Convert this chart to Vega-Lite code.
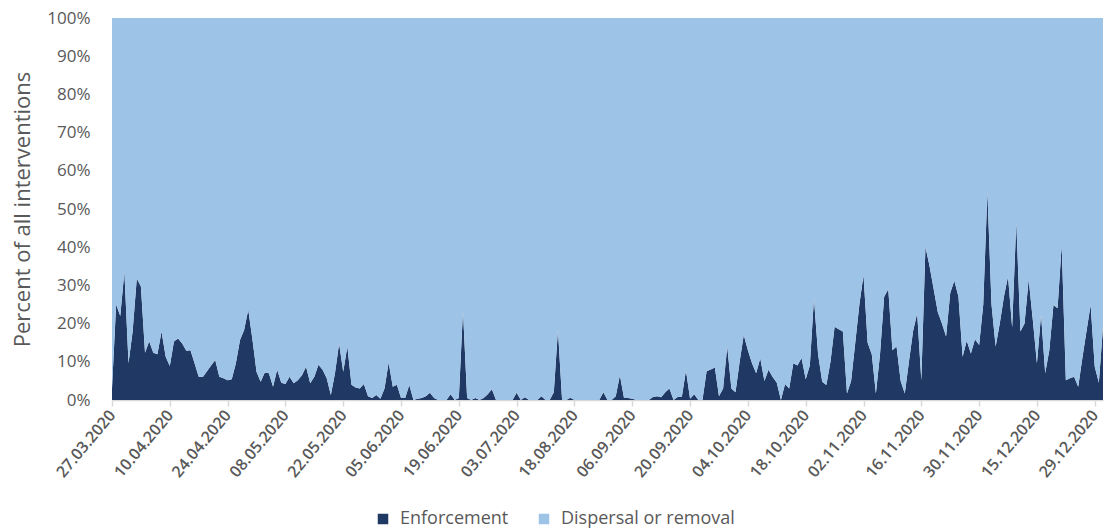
{
"$schema": "https://vega.github.io/schema/vega-lite/v6.json",
"width": 991, "height": 382,
"autosize": {"type": "none"},
"padding": {"left": 112, "top": 18, "right": 2, "bottom": 129},
"background": "white",
"config": {"view": {"stroke": null}, "font": "Open Sans"},
"data": {"values": [
{"date":"27.03.2020","Enforcement":3,"Dispersal or removal":97},
{"date":"28.03.2020","Enforcement":25,"Dispersal or removal":75},
{"date":"29.03.2020","Enforcement":22,"Dispersal or removal":78},
{"date":"30.03.2020","Enforcement":33.6,"Dispersal or removal":66.4},
{"date":"31.03.2020","Enforcement":9.6,"Dispersal or removal":90.4},
{"date":"01.04.2020","Enforcement":18,"Dispersal or removal":82},
{"date":"02.04.2020","Enforcement":31.8,"Dispersal or removal":68.2},
{"date":"03.04.2020","Enforcement":29.7,"Dispersal or removal":70.3},
{"date":"04.04.2020","Enforcement":12.4,"Dispersal or removal":87.6},
{"date":"05.04.2020","Enforcement":15.4,"Dispersal or removal":84.6},
{"date":"06.04.2020","Enforcement":12.4,"Dispersal or removal":87.6},
{"date":"07.04.2020","Enforcement":12,"Dispersal or removal":88},
{"date":"08.04.2020","Enforcement":17.9,"Dispersal or removal":82.1},
{"date":"09.04.2020","Enforcement":11.3,"Dispersal or removal":88.7},
{"date":"10.04.2020","Enforcement":8.9,"Dispersal or removal":91.1},
{"date":"11.04.2020","Enforcement":15.3,"Dispersal or removal":84.7},
{"date":"12.04.2020","Enforcement":16.1,"Dispersal or removal":83.9},
{"date":"13.04.2020","Enforcement":14.8,"Dispersal or removal":85.2},
{"date":"14.04.2020","Enforcement":12.9,"Dispersal or removal":87.1},
{"date":"15.04.2020","Enforcement":13,"Dispersal or removal":87},
{"date":"16.04.2020","Enforcement":9.6,"Dispersal or removal":90.4},
{"date":"17.04.2020","Enforcement":6.1,"Dispersal or removal":93.9},
{"date":"18.04.2020","Enforcement":6,"Dispersal or removal":94},
{"date":"19.04.2020","Enforcement":7.5,"Dispersal or removal":92.5},
{"date":"20.04.2020","Enforcement":9,"Dispersal or removal":91},
{"date":"21.04.2020","Enforcement":10.5,"Dispersal or removal":89.5},
{"date":"22.04.2020","Enforcement":6.1,"Dispersal or removal":93.9},
{"date":"23.04.2020","Enforcement":5.7,"Dispersal or removal":94.3},
{"date":"24.04.2020","Enforcement":5.2,"Dispersal or removal":94.8},
{"date":"25.04.2020","Enforcement":5.4,"Dispersal or removal":94.6},
{"date":"26.04.2020","Enforcement":9.6,"Dispersal or removal":90.4},
{"date":"27.04.2020","Enforcement":15.7,"Dispersal or removal":84.3},
{"date":"28.04.2020","Enforcement":18.3,"Dispersal or removal":81.7},
{"date":"29.04.2020","Enforcement":23.6,"Dispersal or removal":76.4},
{"date":"30.04.2020","Enforcement":16,"Dispersal or removal":84},
{"date":"01.05.2020","Enforcement":7.4,"Dispersal or removal":92.6},
{"date":"02.05.2020","Enforcement":4.8,"Dispersal or removal":95.2},
{"date":"03.05.2020","Enforcement":7.2,"Dispersal or removal":92.8},
{"date":"04.05.2020","Enforcement":7,"Dispersal or removal":93},
{"date":"05.05.2020","Enforcement":3.5,"Dispersal or removal":96.5},
{"date":"06.05.2020","Enforcement":7.9,"Dispersal or removal":92.1},
{"date":"07.05.2020","Enforcement":4.5,"Dispersal or removal":95.5},
{"date":"08.05.2020","Enforcement":4.2,"Dispersal or removal":95.8},
{"date":"09.05.2020","Enforcement":6.1,"Dispersal or removal":93.9},
{"date":"10.05.2020","Enforcement":4.4,"Dispersal or removal":95.6},
{"date":"11.05.2020","Enforcement":5.2,"Dispersal or removal":94.8},
{"date":"12.05.2020","Enforcement":6.5,"Dispersal or removal":93.5},
{"date":"13.05.2020","Enforcement":8.7,"Dispersal or removal":91.3},
{"date":"14.05.2020","Enforcement":4.4,"Dispersal or removal":95.6},
{"date":"15.05.2020","Enforcement":6.1,"Dispersal or removal":93.9},
{"date":"16.05.2020","Enforcement":9.2,"Dispersal or removal":90.8},
{"date":"17.05.2020","Enforcement":7.9,"Dispersal or removal":92.1},
{"date":"18.05.2020","Enforcement":5.7,"Dispersal or removal":94.3},
{"date":"19.05.2020","Enforcement":1.3,"Dispersal or removal":98.7},
{"date":"20.05.2020","Enforcement":7,"Dispersal or removal":93},
{"date":"21.05.2020","Enforcement":14.8,"Dispersal or removal":85.2},
{"date":"22.05.2020","Enforcement":7.4,"Dispersal or removal":92.6},
{"date":"23.05.2020","Enforcement":14,"Dispersal or removal":86},
{"date":"24.05.2020","Enforcement":4,"Dispersal or removal":96},
{"date":"25.05.2020","Enforcement":3.3,"Dispersal or removal":96.7},
{"date":"26.05.2020","Enforcement":3,"Dispersal or removal":97},
{"date":"27.05.2020","Enforcement":4.2,"Dispersal or removal":95.8},
{"date":"28.05.2020","Enforcement":1,"Dispersal or removal":99},
{"date":"29.05.2020","Enforcement":0.5,"Dispersal or removal":99.5},
{"date":"30.05.2020","Enforcement":1.3,"Dispersal or removal":98.7},
{"date":"31.05.2020","Enforcement":0.3,"Dispersal or removal":99.7},
{"date":"01.06.2020","Enforcement":3,"Dispersal or removal":97},
{"date":"02.06.2020","Enforcement":9.8,"Dispersal or removal":90.2},
{"date":"03.06.2020","Enforcement":3.5,"Dispersal or removal":96.5},
{"date":"04.06.2020","Enforcement":4,"Dispersal or removal":96},
{"date":"05.06.2020","Enforcement":0.5,"Dispersal or removal":99.5},
{"date":"06.06.2020","Enforcement":0.5,"Dispersal or removal":99.5},
{"date":"07.06.2020","Enforcement":3.9,"Dispersal or removal":96.1},
{"date":"08.06.2020","Enforcement":0,"Dispersal or removal":100},
{"date":"09.06.2020","Enforcement":0.3,"Dispersal or removal":99.7},
{"date":"10.06.2020","Enforcement":0.5,"Dispersal or removal":99.5},
{"date":"11.06.2020","Enforcement":1,"Dispersal or removal":99},
{"date":"12.06.2020","Enforcement":1.9,"Dispersal or removal":98.1},
{"date":"13.06.2020","Enforcement":0.5,"Dispersal or removal":99.5},
{"date":"14.06.2020","Enforcement":0,"Dispersal or removal":100},
{"date":"15.06.2020","Enforcement":0,"Dispersal or removal":100},
{"date":"16.06.2020","Enforcement":0,"Dispersal or removal":100},
{"date":"17.06.2020","Enforcement":1.5,"Dispersal or removal":98.5},
{"date":"18.06.2020","Enforcement":0,"Dispersal or removal":100},
{"date":"19.06.2020","Enforcement":0.5,"Dispersal or removal":99.5},
{"date":"20.06.2020","Enforcement":23.4,"Dispersal or removal":76.6},
{"date":"21.06.2020","Enforcement":0.5,"Dispersal or removal":99.5},
{"date":"22.06.2020","Enforcement":0,"Dispersal or removal":100},
{"date":"23.06.2020","Enforcement":0.5,"Dispersal or removal":99.5},
{"date":"24.06.2020","Enforcement":0,"Dispersal or removal":100},
{"date":"25.06.2020","Enforcement":0.5,"Dispersal or removal":99.5},
{"date":"26.06.2020","Enforcement":1.5,"Dispersal or removal":98.5},
{"date":"27.06.2020","Enforcement":2.8,"Dispersal or removal":97.2},
{"date":"28.06.2020","Enforcement":0,"Dispersal or removal":100},
{"date":"29.06.2020","Enforcement":0,"Dispersal or removal":100},
{"date":"30.06.2020","Enforcement":0,"Dispersal or removal":100},
{"date":"01.07.2020","Enforcement":0,"Dispersal or removal":100},
{"date":"02.07.2020","Enforcement":0,"Dispersal or removal":100},
{"date":"03.07.2020","Enforcement":1.9,"Dispersal or removal":98.1},
{"date":"06.07.2020","Enforcement":0,"Dispersal or removal":100},
{"date":"09.07.2020","Enforcement":0.7,"Dispersal or removal":99.3},
{"date":"13.07.2020","Enforcement":0,"Dispersal or removal":100},
{"date":"16.07.2020","Enforcement":0,"Dispersal or removal":100},
{"date":"20.07.2020","Enforcement":0,"Dispersal or removal":100},
{"date":"23.07.2020","Enforcement":1,"Dispersal or removal":99},
{"date":"27.07.2020","Enforcement":0,"Dispersal or removal":100},
{"date":"30.07.2020","Enforcement":0,"Dispersal or removal":100},
{"date":"03.08.2020","Enforcement":2,"Dispersal or removal":98},
{"date":"06.08.2020","Enforcement":18.3,"Dispersal or removal":81.7},
{"date":"10.08.2020","Enforcement":0,"Dispersal or removal":100},
{"date":"13.08.2020","Enforcement":0,"Dispersal or removal":100},
{"date":"15.08.2020","Enforcement":0.6,"Dispersal or removal":99.4},
{"date":"18.08.2020","Enforcement":0,"Dispersal or removal":100},
{"date":"19.08.2020","Enforcement":0,"Dispersal or removal":100},
{"date":"20.08.2020","Enforcement":0,"Dispersal or removal":100},
{"date":"21.08.2020","Enforcement":0,"Dispersal or removal":100},
{"date":"24.08.2020","Enforcement":0,"Dispersal or removal":100},
{"date":"25.08.2020","Enforcement":0,"Dispersal or removal":100},
{"date":"26.08.2020","Enforcement":0,"Dispersal or removal":100},
{"date":"27.08.2020","Enforcement":2,"Dispersal or removal":98},
{"date":"28.08.2020","Enforcement":0,"Dispersal or removal":100},
{"date":"31.08.2020","Enforcement":0,"Dispersal or removal":100},
{"date":"01.09.2020","Enforcement":1,"Dispersal or removal":99},
{"date":"02.09.2020","Enforcement":6.5,"Dispersal or removal":93.5},
{"date":"03.09.2020","Enforcement":0.5,"Dispersal or removal":99.5},
{"date":"04.09.2020","Enforcement":0.5,"Dispersal or removal":99.5},
{"date":"06.09.2020","Enforcement":0.3,"Dispersal or removal":99.7},
{"date":"07.09.2020","Enforcement":0,"Dispersal or removal":100},
{"date":"08.09.2020","Enforcement":0,"Dispersal or removal":100},
{"date":"09.09.2020","Enforcement":0,"Dispersal or removal":100},
{"date":"10.09.2020","Enforcement":0,"Dispersal or removal":100},
{"date":"11.09.2020","Enforcement":0.8,"Dispersal or removal":99.2},
{"date":"12.09.2020","Enforcement":1,"Dispersal or removal":99},
{"date":"13.09.2020","Enforcement":0.7,"Dispersal or removal":99.3},
{"date":"14.09.2020","Enforcement":2,"Dispersal or removal":98},
{"date":"15.09.2020","Enforcement":3,"Dispersal or removal":97},
{"date":"16.09.2020","Enforcement":0,"Dispersal or removal":100},
{"date":"17.09.2020","Enforcement":0.8,"Dispersal or removal":99.2},
{"date":"18.09.2020","Enforcement":0.8,"Dispersal or removal":99.2},
{"date":"19.09.2020","Enforcement":7.7,"Dispersal or removal":92.3},
{"date":"20.09.2020","Enforcement":0.3,"Dispersal or removal":99.7},
{"date":"21.09.2020","Enforcement":1.5,"Dispersal or removal":98.5},
{"date":"22.09.2020","Enforcement":0,"Dispersal or removal":100},
{"date":"23.09.2020","Enforcement":0,"Dispersal or removal":100},
{"date":"24.09.2020","Enforcement":7.5,"Dispersal or removal":92.5},
{"date":"25.09.2020","Enforcement":8,"Dispersal or removal":92},
{"date":"26.09.2020","Enforcement":8.5,"Dispersal or removal":91.5},
{"date":"27.09.2020","Enforcement":1,"Dispersal or removal":99},
{"date":"28.09.2020","Enforcement":3,"Dispersal or removal":97},
{"date":"29.09.2020","Enforcement":14,"Dispersal or removal":86},
{"date":"30.09.2020","Enforcement":3,"Dispersal or removal":97},
{"date":"01.10.2020","Enforcement":2,"Dispersal or removal":98},
{"date":"02.10.2020","Enforcement":10,"Dispersal or removal":90},
{"date":"03.10.2020","Enforcement":17,"Dispersal or removal":83},
{"date":"04.10.2020","Enforcement":13,"Dispersal or removal":87},
{"date":"05.10.2020","Enforcement":9.6,"Dispersal or removal":90.4},
{"date":"06.10.2020","Enforcement":7,"Dispersal or removal":93},
{"date":"07.10.2020","Enforcement":10.9,"Dispersal or removal":89.1},
{"date":"08.10.2020","Enforcement":5,"Dispersal or removal":95},
{"date":"09.10.2020","Enforcement":7.9,"Dispersal or removal":92.1},
{"date":"10.10.2020","Enforcement":6,"Dispersal or removal":94},
{"date":"11.10.2020","Enforcement":4.5,"Dispersal or removal":95.5},
{"date":"12.10.2020","Enforcement":0,"Dispersal or removal":100},
{"date":"13.10.2020","Enforcement":4.2,"Dispersal or removal":95.8},
{"date":"14.10.2020","Enforcement":3,"Dispersal or removal":97},
{"date":"15.10.2020","Enforcement":9.6,"Dispersal or removal":90.4},
{"date":"16.10.2020","Enforcement":9,"Dispersal or removal":91},
{"date":"17.10.2020","Enforcement":11,"Dispersal or removal":89},
{"date":"18.10.2020","Enforcement":5.4,"Dispersal or removal":94.6},
{"date":"19.10.2020","Enforcement":9,"Dispersal or removal":91},
{"date":"20.10.2020","Enforcement":26.6,"Dispersal or removal":73.4},
{"date":"21.10.2020","Enforcement":12,"Dispersal or removal":88},
{"date":"22.10.2020","Enforcement":4.8,"Dispersal or removal":95.2},
{"date":"23.10.2020","Enforcement":3.9,"Dispersal or removal":96.1},
{"date":"24.10.2020","Enforcement":10,"Dispersal or removal":90},
{"date":"26.10.2020","Enforcement":19.2,"Dispersal or removal":80.8},
{"date":"27.10.2020","Enforcement":18.5,"Dispersal or removal":81.5},
{"date":"28.10.2020","Enforcement":17.9,"Dispersal or removal":82.1},
{"date":"29.10.2020","Enforcement":1.7,"Dispersal or removal":98.3},
{"date":"30.10.2020","Enforcement":5,"Dispersal or removal":95},
{"date":"31.10.2020","Enforcement":15,"Dispersal or removal":85},
{"date":"01.11.2020","Enforcement":25,"Dispersal or removal":75},
{"date":"02.11.2020","Enforcement":32.7,"Dispersal or removal":67.3},
{"date":"03.11.2020","Enforcement":15,"Dispersal or removal":85},
{"date":"04.11.2020","Enforcement":12,"Dispersal or removal":88},
{"date":"05.11.2020","Enforcement":1.7,"Dispersal or removal":98.3},
{"date":"06.11.2020","Enforcement":12,"Dispersal or removal":88},
{"date":"07.11.2020","Enforcement":27,"Dispersal or removal":73},
{"date":"08.11.2020","Enforcement":29,"Dispersal or removal":71},
{"date":"09.11.2020","Enforcement":13,"Dispersal or removal":87},
{"date":"10.11.2020","Enforcement":14,"Dispersal or removal":86},
{"date":"11.11.2020","Enforcement":5,"Dispersal or removal":95},
{"date":"12.11.2020","Enforcement":1.7,"Dispersal or removal":98.3},
{"date":"13.11.2020","Enforcement":10,"Dispersal or removal":90},
{"date":"14.11.2020","Enforcement":18,"Dispersal or removal":82},
{"date":"15.11.2020","Enforcement":22.7,"Dispersal or removal":77.3},
{"date":"16.11.2020","Enforcement":5.2,"Dispersal or removal":94.8},
{"date":"17.11.2020","Enforcement":40.1,"Dispersal or removal":59.9},
{"date":"18.11.2020","Enforcement":35,"Dispersal or removal":65},
{"date":"19.11.2020","Enforcement":29,"Dispersal or removal":71},
{"date":"20.11.2020","Enforcement":23,"Dispersal or removal":77},
{"date":"21.11.2020","Enforcement":20,"Dispersal or removal":80},
{"date":"22.11.2020","Enforcement":16.6,"Dispersal or removal":83.4},
{"date":"23.11.2020","Enforcement":28,"Dispersal or removal":72},
{"date":"24.11.2020","Enforcement":31.2,"Dispersal or removal":68.8},
{"date":"25.11.2020","Enforcement":27,"Dispersal or removal":73},
{"date":"26.11.2020","Enforcement":11.3,"Dispersal or removal":88.7},
{"date":"27.11.2020","Enforcement":15.5,"Dispersal or removal":84.5},
{"date":"28.11.2020","Enforcement":12.2,"Dispersal or removal":87.8},
{"date":"29.11.2020","Enforcement":15.9,"Dispersal or removal":84.1},
{"date":"30.11.2020","Enforcement":14.4,"Dispersal or removal":85.6},
{"date":"01.12.2020","Enforcement":25,"Dispersal or removal":75},
{"date":"02.12.2020","Enforcement":54.5,"Dispersal or removal":45.5},
{"date":"03.12.2020","Enforcement":25,"Dispersal or removal":75},
{"date":"04.12.2020","Enforcement":14,"Dispersal or removal":86},
{"date":"05.12.2020","Enforcement":20,"Dispersal or removal":80},
{"date":"07.12.2020","Enforcement":27,"Dispersal or removal":73},
{"date":"08.12.2020","Enforcement":32.3,"Dispersal or removal":67.7},
{"date":"09.12.2020","Enforcement":19,"Dispersal or removal":81},
{"date":"10.12.2020","Enforcement":46.7,"Dispersal or removal":53.3},
{"date":"11.12.2020","Enforcement":17.9,"Dispersal or removal":82.1},
{"date":"12.12.2020","Enforcement":20,"Dispersal or removal":80},
{"date":"13.12.2020","Enforcement":31.6,"Dispersal or removal":68.4},
{"date":"14.12.2020","Enforcement":21,"Dispersal or removal":79},
{"date":"15.12.2020","Enforcement":9.6,"Dispersal or removal":90.4},
{"date":"16.12.2020","Enforcement":22.3,"Dispersal or removal":77.7},
{"date":"17.12.2020","Enforcement":7,"Dispersal or removal":93},
{"date":"18.12.2020","Enforcement":13,"Dispersal or removal":87},
{"date":"19.12.2020","Enforcement":24.9,"Dispersal or removal":75.1},
{"date":"20.12.2020","Enforcement":24,"Dispersal or removal":76},
{"date":"21.12.2020","Enforcement":40.6,"Dispersal or removal":59.4},
{"date":"22.12.2020","Enforcement":5.2,"Dispersal or removal":94.8},
{"date":"23.12.2020","Enforcement":5.7,"Dispersal or removal":94.3},
{"date":"24.12.2020","Enforcement":6.1,"Dispersal or removal":93.9},
{"date":"25.12.2020","Enforcement":3.5,"Dispersal or removal":96.5},
{"date":"26.12.2020","Enforcement":11,"Dispersal or removal":89},
{"date":"27.12.2020","Enforcement":18,"Dispersal or removal":82},
{"date":"28.12.2020","Enforcement":24.9,"Dispersal or removal":75.1},
{"date":"29.12.2020","Enforcement":8.7,"Dispersal or removal":91.3},
{"date":"30.12.2020","Enforcement":4.5,"Dispersal or removal":95.5},
{"date":"31.12.2020","Enforcement":19.2,"Dispersal or removal":80.8}
]},
"transform": [{"fold": ["Enforcement", "Dispersal or removal"], "as": ["series", "share"]}],
"mark": {"type": "area", "interpolate": "linear"},
"encoding": {
  "x": {"field": "date", "type": "ordinal", "sort": null,
    "scale": {"type": "point", "padding": 0},
    "axis": {"title": null,
      "values": ["27.03.2020","10.04.2020","24.04.2020","08.05.2020","22.05.2020","05.06.2020","19.06.2020","03.07.2020","18.08.2020","06.09.2020","20.09.2020","04.10.2020","18.10.2020","02.11.2020","16.11.2020","30.11.2020","15.12.2020","29.12.2020"],
      "labelAngle": -50, "labelFontSize": 16, "labelFontWeight": 600, "labelColor": "#595959",
      "tickColor": "#D9D9D9", "tickSize": 6, "tickWidth": 1.5, "domainColor": "#D9D9D9", "domainWidth": 1.5,
      "labelPadding": 6, "grid": false}},
  "y": {"field": "share", "type": "quantitative", "stack": "normalize",
    "scale": {"domain": [0, 1]},
    "axis": {"title": "Percent of all interventions", "format": ".0%",
      "values": [0, 0.1, 0.2, 0.3, 0.4, 0.5, 0.6, 0.7, 0.8, 0.9, 1],
      "labelFontSize": 17, "labelColor": "#595959", "titleFontSize": 22, "titleFontWeight": "normal",
      "titleColor": "#595959", "domain": false, "ticks": false, "tickSize": 0, "grid": false,
      "labelPadding": 22, "titlePadding": 12}},
  "color": {"field": "series", "type": "nominal",
    "scale": {"domain": ["Enforcement", "Dispersal or removal"], "range": ["#203864", "#9DC3E6"]},
    "legend": {"title": null, "orient": "none", "legendX": 262, "legendY": 492, "direction": "horizontal",
      "symbolType": "square", "symbolSize": 110, "symbolStrokeWidth": 0, "labelFontSize": 18,
      "labelColor": "#595959", "labelLimit": 400, "columnPadding": 26, "labelOffset": 8}},
  "order": {"field": "series", "sort": "descending"}
}
}
